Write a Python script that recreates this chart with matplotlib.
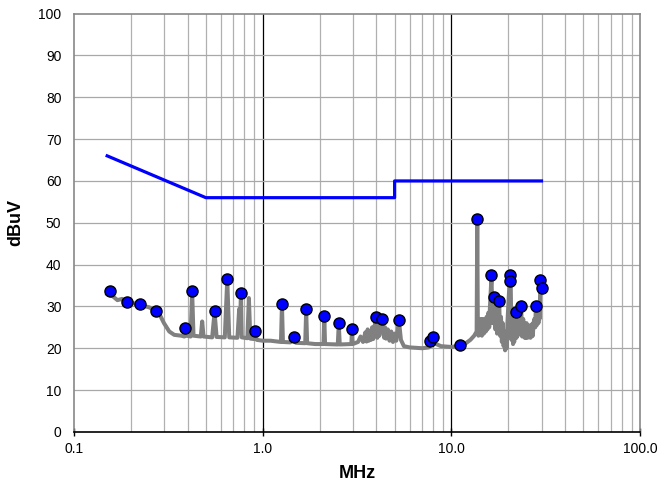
import matplotlib
matplotlib.use("Agg")
import matplotlib.pyplot as plt
from matplotlib.ticker import FixedLocator, NullFormatter

plt.rcParams['font.family'] = ['Liberation Sans', 'DejaVu Sans']

# limit line
limit_mhz = [0.15, 0.5, 5.0, 5.0, 30.0]
limit_dbuv = [66, 56, 56, 60, 60]

trace_mhz = [0.150, 0.160, 0.170, 0.180, 0.190, 0.200, 0.215, 0.230, 0.250, 0.270,
             0.285, 0.300, 0.320, 0.340, 0.370, 0.385, 0.390, 0.395, 0.415, 0.423,
             0.430, 0.470, 0.478, 0.486, 0.540, 0.556, 0.570, 0.630, 0.649, 0.665,
             0.735, 0.751, 0.757, 0.767, 0.775, 0.830, 0.845, 0.860, 0.900, 0.910,
             0.930, 1.000, 1.100, 1.200, 1.250, 1.265, 1.280, 1.400, 1.460, 1.500,
             1.680, 1.700, 1.720, 1.900, 2.100, 2.120, 2.140, 2.500, 2.530, 2.560,
             2.950, 2.970, 3.000, 3.200, 3.300, 3.400, 3.500, 3.550, 3.600, 3.650,
             3.700, 3.750, 3.800, 3.850, 3.900, 3.980, 4.050, 4.100, 4.150, 4.200,
             4.310, 4.400, 4.450, 4.500, 4.600, 4.700, 4.800, 4.900, 5.000, 5.100,
             5.270, 5.400, 5.600, 6.000, 7.000, 7.600, 7.700, 7.950, 8.300, 8.800,
             10.00, 11.00, 11.50, 12.00, 12.60, 13.20, 13.60, 13.70, 13.80, 13.90,
             14.00, 14.15, 14.30, 14.50, 14.70, 14.85, 15.00, 15.20, 15.35, 15.50,
             15.70, 15.85, 16.00, 16.30, 16.50, 16.70, 16.90, 17.10, 17.30, 17.45,
             17.60, 17.90, 18.10, 18.30, 18.50, 18.70, 18.90, 19.10, 19.25, 19.40,
             19.60, 19.80, 20.00, 20.40, 20.60, 20.80, 21.00, 21.20, 21.35, 21.50,
             21.70, 21.90, 22.10, 22.30, 22.45, 22.60, 22.80, 23.10, 23.40, 23.70,
             24.00, 24.15, 24.30, 24.45, 24.60, 24.80, 25.00, 25.30, 25.60, 25.80,
             26.00, 26.20, 26.40, 26.60, 26.80, 27.00, 27.20, 27.50, 27.80, 28.00,
             28.30, 28.60, 28.90, 29.10, 29.30, 29.60, 30.00]
trace_dbuv = [33.0, 32.5, 31.5, 31.8, 30.8, 31.0, 30.5, 30.2, 29.8, 29.0,
              28.0, 26.0, 24.0, 23.2, 23.0, 22.8, 24.6, 23.0, 22.8, 33.5,
              23.0, 22.8, 26.4, 22.8, 22.6, 28.6, 22.7, 22.6, 36.4, 22.6,
              22.5, 29.4, 24.0, 33.0, 22.6, 22.4, 32.0, 22.3, 22.2, 24.0,
              22.0, 21.8, 21.8, 21.6, 21.5, 30.4, 21.5, 21.4, 22.5, 21.3,
              21.2, 29.0, 21.2, 21.0, 21.0, 27.4, 21.0, 20.9, 25.8, 20.9,
              21.0, 24.4, 21.0, 21.5, 22.8, 21.5, 23.8, 21.6, 24.5, 21.8,
              24.0, 22.0, 25.0, 22.2, 24.8, 27.2, 22.5, 25.5, 23.0, 25.8,
              27.0, 22.5, 25.0, 22.3, 24.5, 21.8, 24.0, 21.5, 23.5, 21.8,
              26.6, 22.0, 20.5, 20.2, 20.0, 20.2, 21.8, 22.4, 21.0, 20.5,
              20.3, 20.6, 20.8, 21.3, 22.0, 23.0, 24.0, 50.8, 25.5, 23.0,
              26.5, 23.5, 27.0, 23.0, 27.0, 23.5, 26.5, 24.0, 27.5, 24.5,
              28.5, 25.0, 30.0, 37.2, 26.0, 31.0, 32.0, 24.5, 29.5, 23.5,
              29.0, 31.2, 23.0, 27.5, 21.5, 26.0, 20.5, 24.0, 19.5, 23.0,
              20.0, 26.0, 30.0, 37.2, 35.8, 22.0, 28.0, 21.0, 27.5, 21.5,
              27.0, 28.5, 22.5, 27.5, 23.0, 28.0, 23.5, 28.5, 29.8, 22.8,
              27.0, 23.0, 26.0, 22.5, 25.8, 22.5, 26.0, 22.5, 25.5, 22.8,
              25.0, 22.5, 25.5, 22.8, 25.8, 23.0, 26.0, 27.0, 25.0, 30.0,
              25.5, 29.5, 26.0, 31.0, 27.0, 36.0, 34.0]

# peak markers
marker_mhz = [0.156, 0.190, 0.223, 0.272, 0.390, 0.423, 0.561, 0.649, 0.767, 0.910,
              1.265, 1.460, 1.700, 2.120, 2.530, 2.970, 3.980, 4.310, 5.270, 7.660,
              7.940, 11.10, 13.70, 16.30, 16.90, 17.90, 20.40, 20.50, 21.90, 23.40,
              28.00, 29.60, 30.20]
marker_dbuv = [33.7, 31.0, 30.5, 28.8, 24.9, 33.7, 28.8, 36.6, 33.1, 24.2,
               30.6, 22.7, 29.3, 27.6, 26.0, 24.6, 27.5, 27.1, 26.8, 21.8,
               22.6, 20.8, 50.9, 37.5, 32.2, 31.4, 37.5, 36.0, 28.7, 30.0,
               30.2, 36.3, 34.3]

fig = plt.figure(figsize=(6.6, 4.88), dpi=100)
ax = fig.add_axes([0.112, 0.115, 0.858, 0.857])

ax.set_xscale('log')
ax.set_xlim(0.1, 100)
ax.set_ylim(0, 100)

# grid
minor = [m * d for d in (0.1, 1, 10) for m in range(2, 10)]
for x in minor:
    ax.axvline(x, color='#b0b0b0', lw=0.9, zorder=0)
for x in (1, 10):
    ax.axvline(x, color='black', lw=0.9, zorder=0)
for y in range(10, 100, 10):
    ax.axhline(y, color='#a8a8a8', lw=0.9, zorder=0)

ax.plot(limit_mhz, limit_dbuv, color='#0000ff', lw=2.3, zorder=3)
ax.plot(trace_mhz, trace_dbuv, color='#808080', lw=2.9, zorder=2)
ax.plot(marker_mhz, marker_dbuv, 'o', color='#0000ff', mec='black', mew=1.0,
        ms=8, zorder=4, clip_on=False)

ax.xaxis.set_major_locator(FixedLocator([0.1, 1, 10, 100]))
ax.xaxis.set_minor_formatter(NullFormatter())
ax.xaxis.set_minor_locator(FixedLocator([]))
ax.set_xticklabels(['0.1', '1.0', '10.0', '100.0'])
ax.set_yticks(range(0, 101, 10))

ax.tick_params(axis='x', direction='inout', length=6, width=1, colors='black',
               labelsize=10, pad=4)
ax.tick_params(axis='y', length=0, labelsize=10, pad=9)

for side in ('top', 'right', 'left'):
    ax.spines[side].set_color('#888888')
    ax.spines[side].set_linewidth(1.2)
ax.spines['bottom'].set_color('black')
ax.spines['bottom'].set_linewidth(1.2)

ax.set_xlabel('MHz', fontsize=13, fontweight='bold', labelpad=7)
ax.set_ylabel('dBuV', fontsize=13, fontweight='bold', labelpad=10)

fig.savefig('out.png', dpi=100)
